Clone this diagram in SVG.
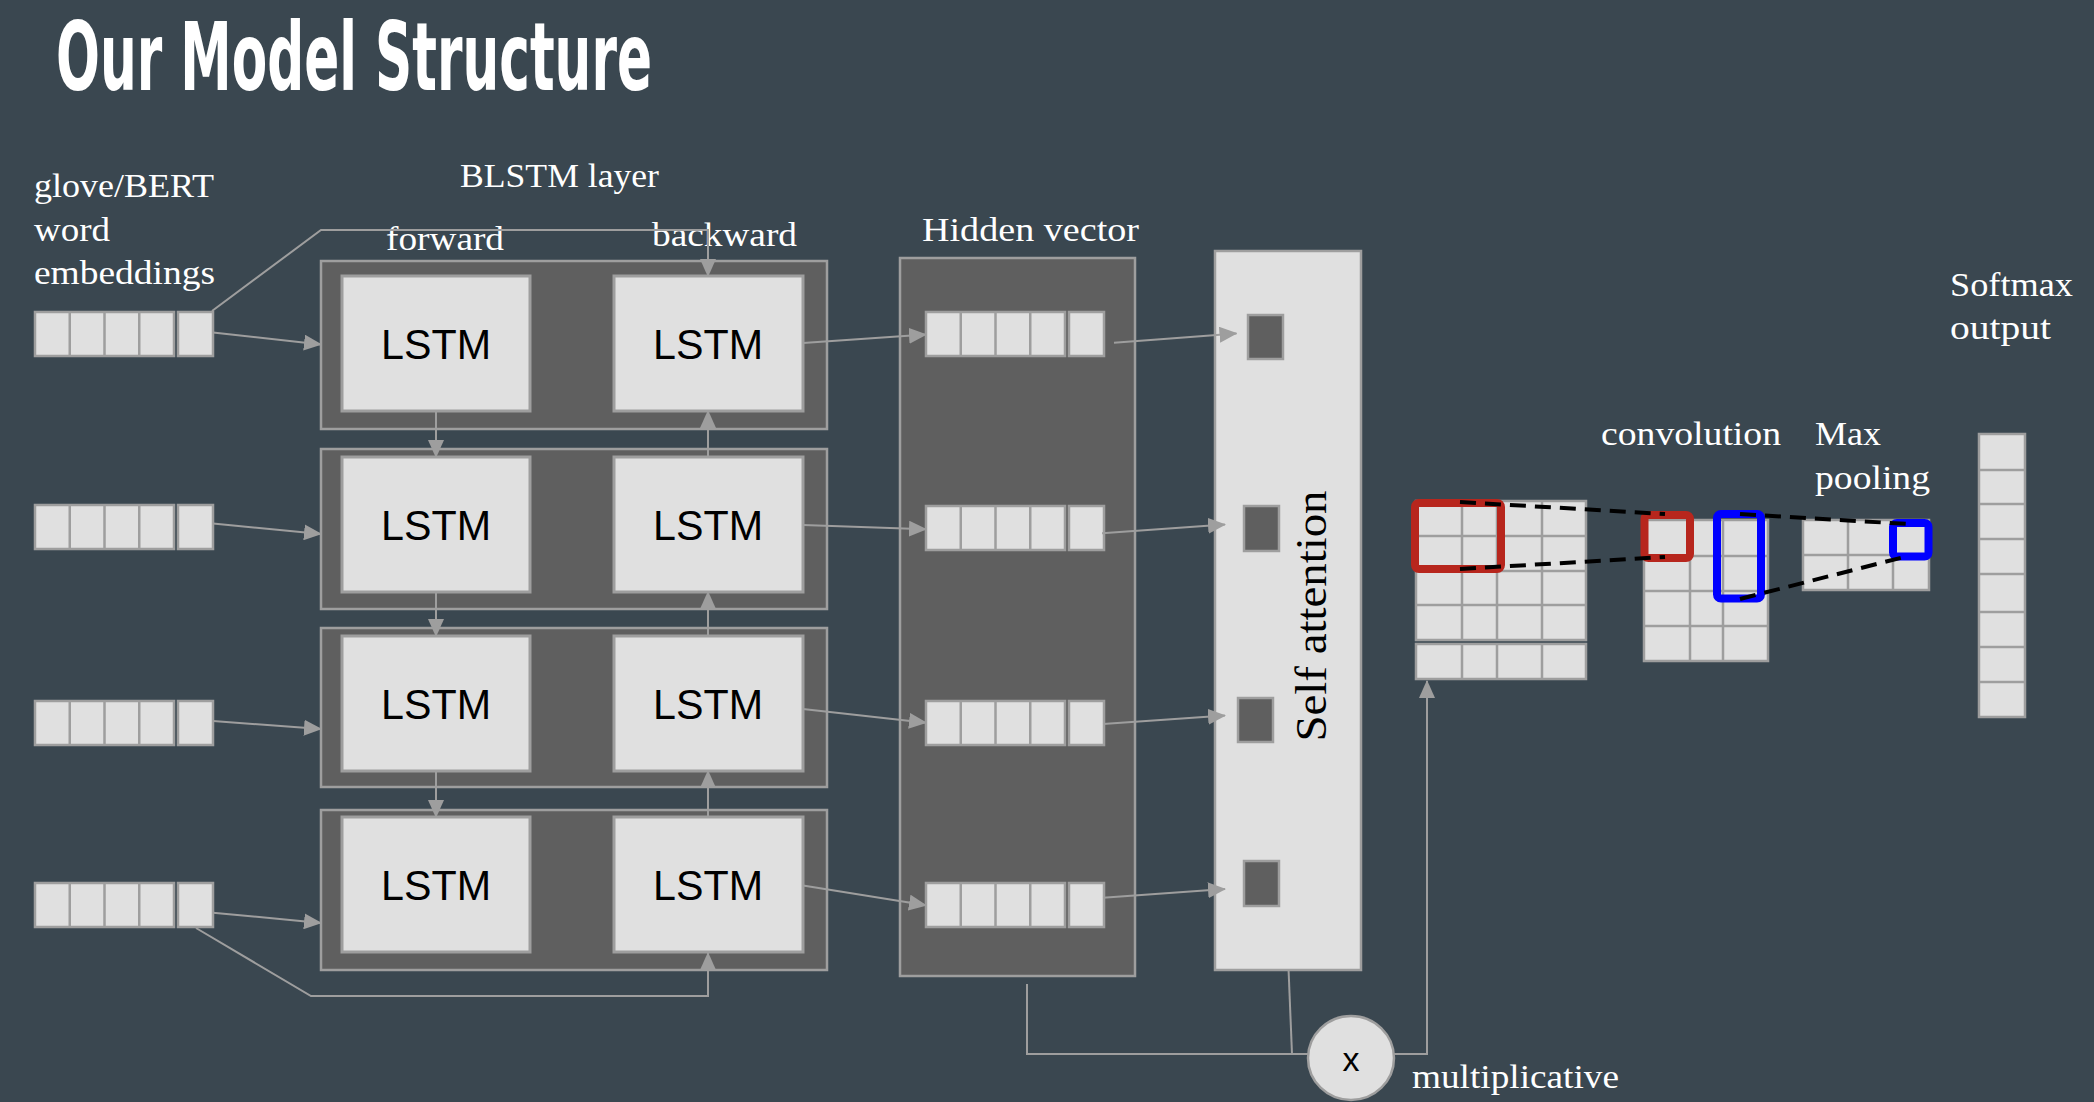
<svg xmlns="http://www.w3.org/2000/svg" width="2094" height="1102" viewBox="0 0 2094 1102">
<defs>
<style>
.cell{fill:#e0e0e0;stroke:#9e9e9e;stroke-width:2.5}
.sep{stroke:#9e9e9e;stroke-width:2.5}
.blstm{fill:#5f5f5f;stroke:#9e9e9e;stroke-width:2.5}
.lstm{fill:#e0e0e0;stroke:#9e9e9e;stroke-width:3}
.lbl{font-family:"Liberation Serif","DejaVu Serif",serif;font-size:34px;fill:#ffffff}
.lt{font-family:"Liberation Sans",Arial,sans-serif;font-size:43px;fill:#000000;text-anchor:middle}
.conn{fill:none;stroke:#9e9e9e;stroke-width:2}
.arr{marker-end:url(#ah)}
.dash{fill:none;stroke:#000000;stroke-width:4;stroke-dasharray:16 9}
.red{fill:none;stroke:#b7261d;stroke-width:8}
.blue{fill:none;stroke:#0000ff;stroke-width:8}
.attsq{fill:#5f5f5f;stroke:#9e9e9e;stroke-width:2.5}
</style>
<marker id="ah" markerUnits="userSpaceOnUse" markerWidth="18" markerHeight="16" refX="17" refY="8" orient="auto">
<path d="M0,0 L18,8 L0,16 z" fill="#9e9e9e"/>
</marker>
<g id="vec">
<rect class="cell" x="0" y="0" width="139" height="44"/>
<line class="sep" x1="34.75" y1="0" x2="34.75" y2="44"/>
<line class="sep" x1="69.5" y1="0" x2="69.5" y2="44"/>
<line class="sep" x1="104.25" y1="0" x2="104.25" y2="44"/>
<rect class="cell" x="143" y="0" width="35" height="44"/>
</g>
</defs>
<rect x="0" y="0" width="2094" height="1102" fill="#3a4750"/>

<text id="title" x="56" y="89.5" font-family="'Liberation Sans Narrow','DejaVu Sans Condensed','Liberation Sans',sans-serif" font-size="95" font-weight="bold" fill="#ffffff" textLength="596" lengthAdjust="spacingAndGlyphs">Our Model Structure</text>

<g id="labels">
<text class="lbl" x="34" y="197" textLength="180" lengthAdjust="spacingAndGlyphs">glove/BERT</text>
<text class="lbl" x="34" y="241" textLength="76" lengthAdjust="spacingAndGlyphs">word</text>
<text class="lbl" x="34" y="284" textLength="181" lengthAdjust="spacingAndGlyphs">embeddings</text>
<text class="lbl" x="460" y="187" textLength="199" lengthAdjust="spacingAndGlyphs">BLSTM layer</text>
<text class="lbl" x="922" y="241" textLength="217" lengthAdjust="spacingAndGlyphs">Hidden vector</text>
<text class="lbl" x="1601" y="445" textLength="180" lengthAdjust="spacingAndGlyphs">convolution</text>
<text class="lbl" x="1815" y="445" textLength="66" lengthAdjust="spacingAndGlyphs">Max</text>
<text class="lbl" x="1815" y="489" textLength="115" lengthAdjust="spacingAndGlyphs">pooling</text>
<text class="lbl" x="1950" y="296" textLength="123" lengthAdjust="spacingAndGlyphs">Softmax</text>
<text class="lbl" x="1950" y="339" textLength="101" lengthAdjust="spacingAndGlyphs">output</text>
<text class="lbl" x="1412" y="1088" textLength="207" lengthAdjust="spacingAndGlyphs">multiplicative</text>
</g>

<g id="embeddings">
<use href="#vec" x="35" y="312"/>
<use href="#vec" x="35" y="505"/>
<use href="#vec" x="35" y="701"/>
<use href="#vec" x="35" y="883"/>
</g>

<g id="blstm-row1">
<rect class="blstm" x="321" y="261" width="506" height="168"/>
<rect class="lstm" x="342" y="276" width="188" height="135"/>
<rect class="lstm" x="614" y="276" width="189" height="135"/>
<text class="lt" x="436" y="359" textLength="110" lengthAdjust="spacingAndGlyphs">LSTM</text>
<text class="lt" x="708" y="359" textLength="110" lengthAdjust="spacingAndGlyphs">LSTM</text>
</g>
<g id="blstm-row2">
<rect class="blstm" x="321" y="449" width="506" height="160"/>
<rect class="lstm" x="342" y="457" width="188" height="135"/>
<rect class="lstm" x="614" y="457" width="189" height="135"/>
<text class="lt" x="436" y="540" textLength="110" lengthAdjust="spacingAndGlyphs">LSTM</text>
<text class="lt" x="708" y="540" textLength="110" lengthAdjust="spacingAndGlyphs">LSTM</text>
</g>
<g id="blstm-row3">
<rect class="blstm" x="321" y="628" width="506" height="159"/>
<rect class="lstm" x="342" y="636" width="188" height="135"/>
<rect class="lstm" x="614" y="636" width="189" height="135"/>
<text class="lt" x="436" y="719" textLength="110" lengthAdjust="spacingAndGlyphs">LSTM</text>
<text class="lt" x="708" y="719" textLength="110" lengthAdjust="spacingAndGlyphs">LSTM</text>
</g>
<g id="blstm-row4">
<rect class="blstm" x="321" y="810" width="506" height="160"/>
<rect class="lstm" x="342" y="817" width="188" height="135"/>
<rect class="lstm" x="614" y="817" width="189" height="135"/>
<text class="lt" x="436" y="900" textLength="110" lengthAdjust="spacingAndGlyphs">LSTM</text>
<text class="lt" x="708" y="900" textLength="110" lengthAdjust="spacingAndGlyphs">LSTM</text>
</g>

<g id="forward-label"><text class="lbl" x="386" y="250" textLength="118" lengthAdjust="spacingAndGlyphs">forward</text></g>
<g id="backward-label"><text class="lbl" x="652" y="246" textLength="145" lengthAdjust="spacingAndGlyphs">backward</text></g>

<g id="hidden">
<rect class="blstm" x="900" y="258" width="235" height="718"/>
<use href="#vec" x="926" y="312"/>
<use href="#vec" x="926" y="506"/>
<use href="#vec" x="926" y="701"/>
<use href="#vec" x="926" y="883"/>
</g>

<g id="attention">
<rect x="1215" y="251" width="146" height="719" fill="#e0e0e0" stroke="#9e9e9e" stroke-width="2.5"/>
<rect class="attsq" x="1248" y="315" width="35" height="44"/>
<rect class="attsq" x="1244" y="506" width="35" height="45"/>
<rect class="attsq" x="1238" y="698" width="35" height="44"/>
<rect class="attsq" x="1244" y="861" width="35" height="45"/>
<text transform="translate(1326,616) rotate(-90)" font-family="'Liberation Serif','DejaVu Serif',serif" font-size="45" fill="#000000" text-anchor="middle" textLength="251" lengthAdjust="spacingAndGlyphs">Self attention</text>
</g>

<g id="multiply">
<ellipse cx="1351" cy="1058" rx="43" ry="42" fill="#e0e0e0" stroke="#9e9e9e" stroke-width="2.5"/>
<text x="1351" y="1071" font-family="'Liberation Sans',Arial,sans-serif" font-size="34" fill="#000000" text-anchor="middle">x</text>
</g>

<g id="conv-input">
<rect class="cell" x="1416" y="501" width="170" height="139"/>
<line class="sep" x1="1462" y1="501" x2="1462" y2="640"/>
<line class="sep" x1="1497" y1="501" x2="1497" y2="640"/>
<line class="sep" x1="1542" y1="501" x2="1542" y2="640"/>
<line class="sep" x1="1416" y1="536" x2="1586" y2="536"/>
<line class="sep" x1="1416" y1="571" x2="1586" y2="571"/>
<line class="sep" x1="1416" y1="605" x2="1586" y2="605"/>
<rect class="cell" x="1416" y="644" width="170" height="35"/>
<line class="sep" x1="1462" y1="644" x2="1462" y2="679"/>
<line class="sep" x1="1497" y1="644" x2="1497" y2="679"/>
<line class="sep" x1="1542" y1="644" x2="1542" y2="679"/>
</g>

<g id="conv-output">
<rect class="cell" x="1644" y="520" width="124" height="141"/>
<line class="sep" x1="1690" y1="520" x2="1690" y2="661"/>
<line class="sep" x1="1723" y1="520" x2="1723" y2="661"/>
<line class="sep" x1="1644" y1="556" x2="1768" y2="556"/>
<line class="sep" x1="1644" y1="591" x2="1768" y2="591"/>
<line class="sep" x1="1644" y1="626" x2="1768" y2="626"/>
</g>

<g id="maxpool">
<rect class="cell" x="1803" y="520" width="126" height="70"/>
<line class="sep" x1="1848" y1="520" x2="1848" y2="590"/>
<line class="sep" x1="1893" y1="520" x2="1893" y2="590"/>
<line class="sep" x1="1803" y1="555" x2="1929" y2="555"/>
</g>

<g id="softmax">
<rect class="cell" x="1979" y="434" width="46" height="283"/>
<line class="sep" x1="1979" y1="470" x2="2025" y2="470"/>
<line class="sep" x1="1979" y1="504" x2="2025" y2="504"/>
<line class="sep" x1="1979" y1="539" x2="2025" y2="539"/>
<line class="sep" x1="1979" y1="574" x2="2025" y2="574" stroke-width="3.5"/>
<line class="sep" x1="1979" y1="612" x2="2025" y2="612" stroke-width="3.5"/>
<line class="sep" x1="1979" y1="647" x2="2025" y2="647"/>
<line class="sep" x1="1979" y1="682" x2="2025" y2="682"/>
</g>

<g id="windows">
<rect class="red" x="1415" y="503" width="86" height="66" rx="4"/>
<rect class="red" x="1644.5" y="515" width="45.5" height="43" rx="4"/>
<rect class="blue" x="1717" y="514" width="44" height="84.5" rx="4"/>
<rect class="blue" x="1893" y="523" width="35.5" height="33.5" rx="4"/>
<line class="dash" x1="1460" y1="502" x2="1665" y2="514"/>
<line class="dash" x1="1460" y1="569" x2="1665" y2="557"/>
<line class="dash" x1="1740" y1="514" x2="1908" y2="524"/>
<line class="dash" x1="1740" y1="599" x2="1908" y2="556"/>
</g>

<g id="connectors">
<polyline class="conn arr" points="212,311 321,230 708,230 708,276"/>
<polyline class="conn arr" points="196,928 311,996 708,996 708,953"/>
<line class="conn arr" x1="213" y1="332.5" x2="321" y2="344.5"/>
<line class="conn arr" x1="213" y1="523.5" x2="321" y2="534"/>
<line class="conn arr" x1="213" y1="721" x2="321" y2="729"/>
<line class="conn arr" x1="213" y1="912.7" x2="321" y2="923"/>
<line class="conn arr" x1="436" y1="411" x2="436" y2="457"/>
<line class="conn arr" x1="436" y1="592" x2="436" y2="636"/>
<line class="conn arr" x1="436" y1="771" x2="436" y2="817"/>
<line class="conn arr" x1="708" y1="457" x2="708" y2="411"/>
<line class="conn arr" x1="708" y1="636" x2="708" y2="592"/>
<line class="conn arr" x1="708" y1="817" x2="708" y2="771"/>
<line class="conn arr" x1="803" y1="343" x2="926" y2="334.5"/>
<line class="conn arr" x1="803" y1="525" x2="926" y2="529.3"/>
<line class="conn arr" x1="803" y1="709" x2="926" y2="722.7"/>
<line class="conn arr" x1="803" y1="885.4" x2="926" y2="905.3"/>
<line class="conn arr" x1="1114" y1="342.7" x2="1236.5" y2="333.4"/>
<line class="conn arr" x1="1102" y1="533.3" x2="1225" y2="524.6"/>
<line class="conn arr" x1="1103" y1="724" x2="1225" y2="715.5"/>
<line class="conn arr" x1="1103" y1="897.7" x2="1225" y2="889"/>
<polyline class="conn" points="1027,984 1027,1054 1308,1054"/>
<line class="conn" x1="1288.6" y1="970.7" x2="1292" y2="1054"/>
<polyline class="conn arr" points="1394,1054 1427,1054 1427,681"/>
</g>
</svg>
